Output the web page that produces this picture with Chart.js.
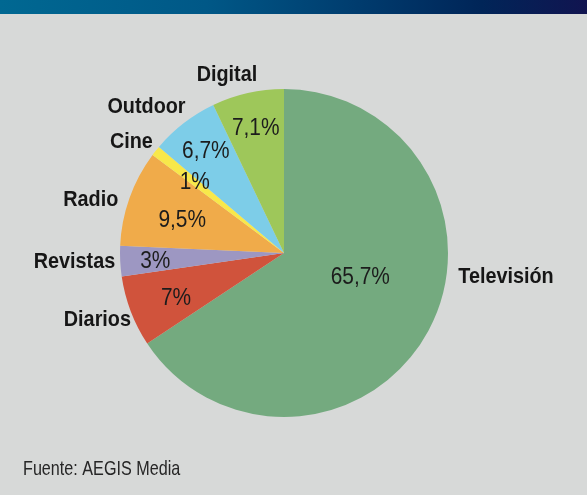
<!DOCTYPE html>
<html>
<head>
<meta charset="utf-8">
<script src="https://cdn.jsdelivr.net/npm/chart.js@4"></script>
<style>
  html, body { margin: 0; padding: 0; background: #d7d9d8; }
  #wrap { position: relative; width: 587px; height: 495px; overflow: hidden; background: #d7d9d8; }
  #banner { position: absolute; left: 0; top: 0; width: 587px; height: 14px;
    background: linear-gradient(to right, #006892 0%, #005887 35%, #003d6f 60%, #002558 82%, #111450 100%); }
  canvas { position: absolute; left: 0; top: 0; }
</style>
</head>
<body>
<div id="wrap">
  <canvas id="c" width="587" height="495"></canvas>
  <div id="banner"></div>
</div>
<script>
const categories = ["Televisión", "Diarios", "Revistas", "Radio", "Cine", "Outdoor", "Digital"];
const shares = [65.7, 7, 3, 9.5, 1, 6.7, 7.1];
const valueLabels = ["65,7%", "7%", "3%", "9,5%", "1%", "6,7%", "7,1%"];
const sliceColors = ["#74aa7f", "#d0533c", "#9d97c2", "#f0ab4a", "#f8e84a", "#7dcde8", "#9ec75a"];
const sourceText = "Fuente: AEGIS Media";

// label placement styles (radius in px from centre, angle tweak in degrees)
const insideRadius = [80, 117, 129, 107, 114, 128, 128];
const insideAngleShift = [-10.7, -1.7, -1, -1.7, 0, 0, 0];
const outsideRadius = [176, 167, 169, 174, 172, 176, 180];
const outsideAngleShift = [-20.3, -2.7, 0, -1.9, 1.8, 3.6, 4.2];

const FONT = '"Liberation Sans", Arial, sans-serif';

function condensedText(ctx, text, x, y, align, sx) {
  ctx.save();
  ctx.translate(x, y);
  ctx.scale(sx, 1);
  ctx.textAlign = align;
  ctx.fillText(text, 0, 0);
  ctx.restore();
}

const labelPlugin = {
  id: 'sliceLabels',
  afterDatasetsDraw(chart) {
    const ctx = chart.ctx;
    const meta = chart.getDatasetMeta(0);
    ctx.save();
    ctx.textBaseline = 'middle';
    meta.data.forEach((arc, i) => {
      const p = arc.getProps(['x', 'y', 'startAngle', 'endAngle'], true);
      const mid = (p.startAngle + p.endAngle) / 2;
      const ai = mid + insideAngleShift[i] * Math.PI / 180;
      ctx.font = '24px ' + FONT;
      ctx.fillStyle = '#1c1c1c';
      condensedText(ctx, valueLabels[i], p.x + Math.cos(ai) * insideRadius[i], p.y + Math.sin(ai) * insideRadius[i], 'center', 0.87);
      const ao = mid + outsideAngleShift[i] * Math.PI / 180;
      const ox = p.x + Math.cos(ao) * outsideRadius[i];
      const oy = p.y + Math.sin(ao) * outsideRadius[i];
      ctx.font = 'bold 22px ' + FONT;
      ctx.fillStyle = '#161616';
      condensedText(ctx, categories[i], ox, oy, Math.cos(ao) < 0 ? 'right' : 'left', 0.9);
    });
    // source note
    ctx.font = '21px ' + FONT;
    ctx.fillStyle = '#262626';
    ctx.textBaseline = 'alphabetic';
    condensedText(ctx, sourceText, 23, 475, 'left', 0.77);
    ctx.restore();
  }
};

new Chart(document.getElementById('c'), {
  type: 'pie',
  data: {
    labels: categories,
    datasets: [{
      data: shares,
      backgroundColor: sliceColors,
      borderWidth: 0,
      hoverOffset: 0
    }]
  },
  options: {
    responsive: false,
    animation: false,
    layout: { padding: { left: 120, right: 139, top: 89, bottom: 78 } },
    plugins: {
      legend: { display: false },
      tooltip: { enabled: false },
      title: { display: false }
    }
  },
  plugins: [labelPlugin]
});
</script>
</body>
</html>
